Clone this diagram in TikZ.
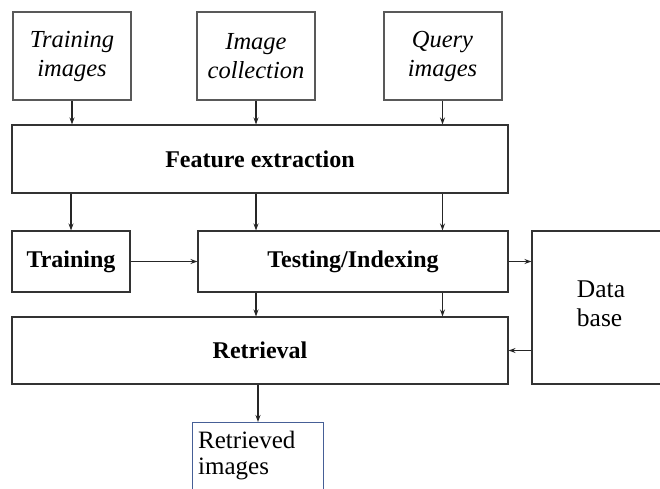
\documentclass[tikz,border=0pt]{standalone}
\usepackage{fontspec}
\setmainfont{Liberation Serif}
\usepackage{tikz}
\usetikzlibrary{arrows.meta,calc}

\begin{document}
\begin{tikzpicture}[x=1pt, y=-1pt,
  inbox/.style={draw=black!65, line width=2pt, fill=white, minimum width=118pt, minimum height=88pt, align=center, font=\fontsize{24.5}{29}\selectfont\itshape},
  blk/.style={draw=black!80, line width=1.1pt, minimum height=61pt, align=center, font=\fontsize{24}{28}\selectfont\bfseries},
  arr/.style={draw=black!85, line width=1.1pt, -{Stealth[length=7pt,width=5pt]}}]
% Cadre
\clip (0,0) rectangle (660,488);
\fill[white] (0,0) rectangle (660,488);
% Entrees
\node[inbox] (ti) at (72,56) {Training\\images};
\node[inbox] (ic) at (256,56) {Image\\collection};
\node[inbox] (qi) at (442.5,56) {Query\\images};
% Blocs
\node[blk, minimum width=496pt, minimum height=68pt] (fe) at (260,159) {Feature extraction};
\node[blk, minimum width=118pt] (tr) at (71,261.5) {Training};
\node[blk, minimum width=310pt] (te) at (353,261.5) {Testing/Indexing};
\node[blk, minimum width=496pt, minimum height=67pt] (re) at (260,350.5) {Retrieval};
\node[draw=black!80, line width=1.1pt, minimum width=148pt, minimum height=153pt] (db) at (606,307.5) {};
\node[align=left, font=\fontsize{25.5}{29}\selectfont] (dbt) at (601,304) {Data\\base};
\node[draw={rgb,255:red,70;green,95;blue,150}, line width=1pt, anchor=north west, minimum width=131pt, minimum height=90pt] (ri) at (192,422) {};
\node[anchor=north west, align=left, font=\fontsize{25}{26}\selectfont, inner sep=0pt] (rit) at ($(ri.north west)+(6,9)$) {Retrieved\\images};
% Fleches
\draw[arr] (ti.south) -- (ti.south |- fe.north);
\draw[arr] (ic.south) -- (ic.south |- fe.north);
\draw[arr] (qi.south) -- (qi.south |- fe.north);
\draw[arr] (fe.south -| tr.north) -- (tr.north);
\draw[arr] (fe.south -| ic.south) -- (te.north -| ic.south);
\draw[arr] (fe.south -| qi.south) -- (te.north -| qi.south);
\draw[arr] (tr.east) -- (te.west);
\draw[arr] (te.east) -- (te.east -| db.west);
\draw[arr] (te.south -| ic.south) -- (re.north -| ic.south);
\draw[arr] (te.south -| qi.south) -- (re.north -| qi.south);
\draw[arr] (re.east -| db.west) -- (re.east);
\draw[arr] (re.south -| ri.north) -- (ri.north);
\end{tikzpicture}
\end{document}
